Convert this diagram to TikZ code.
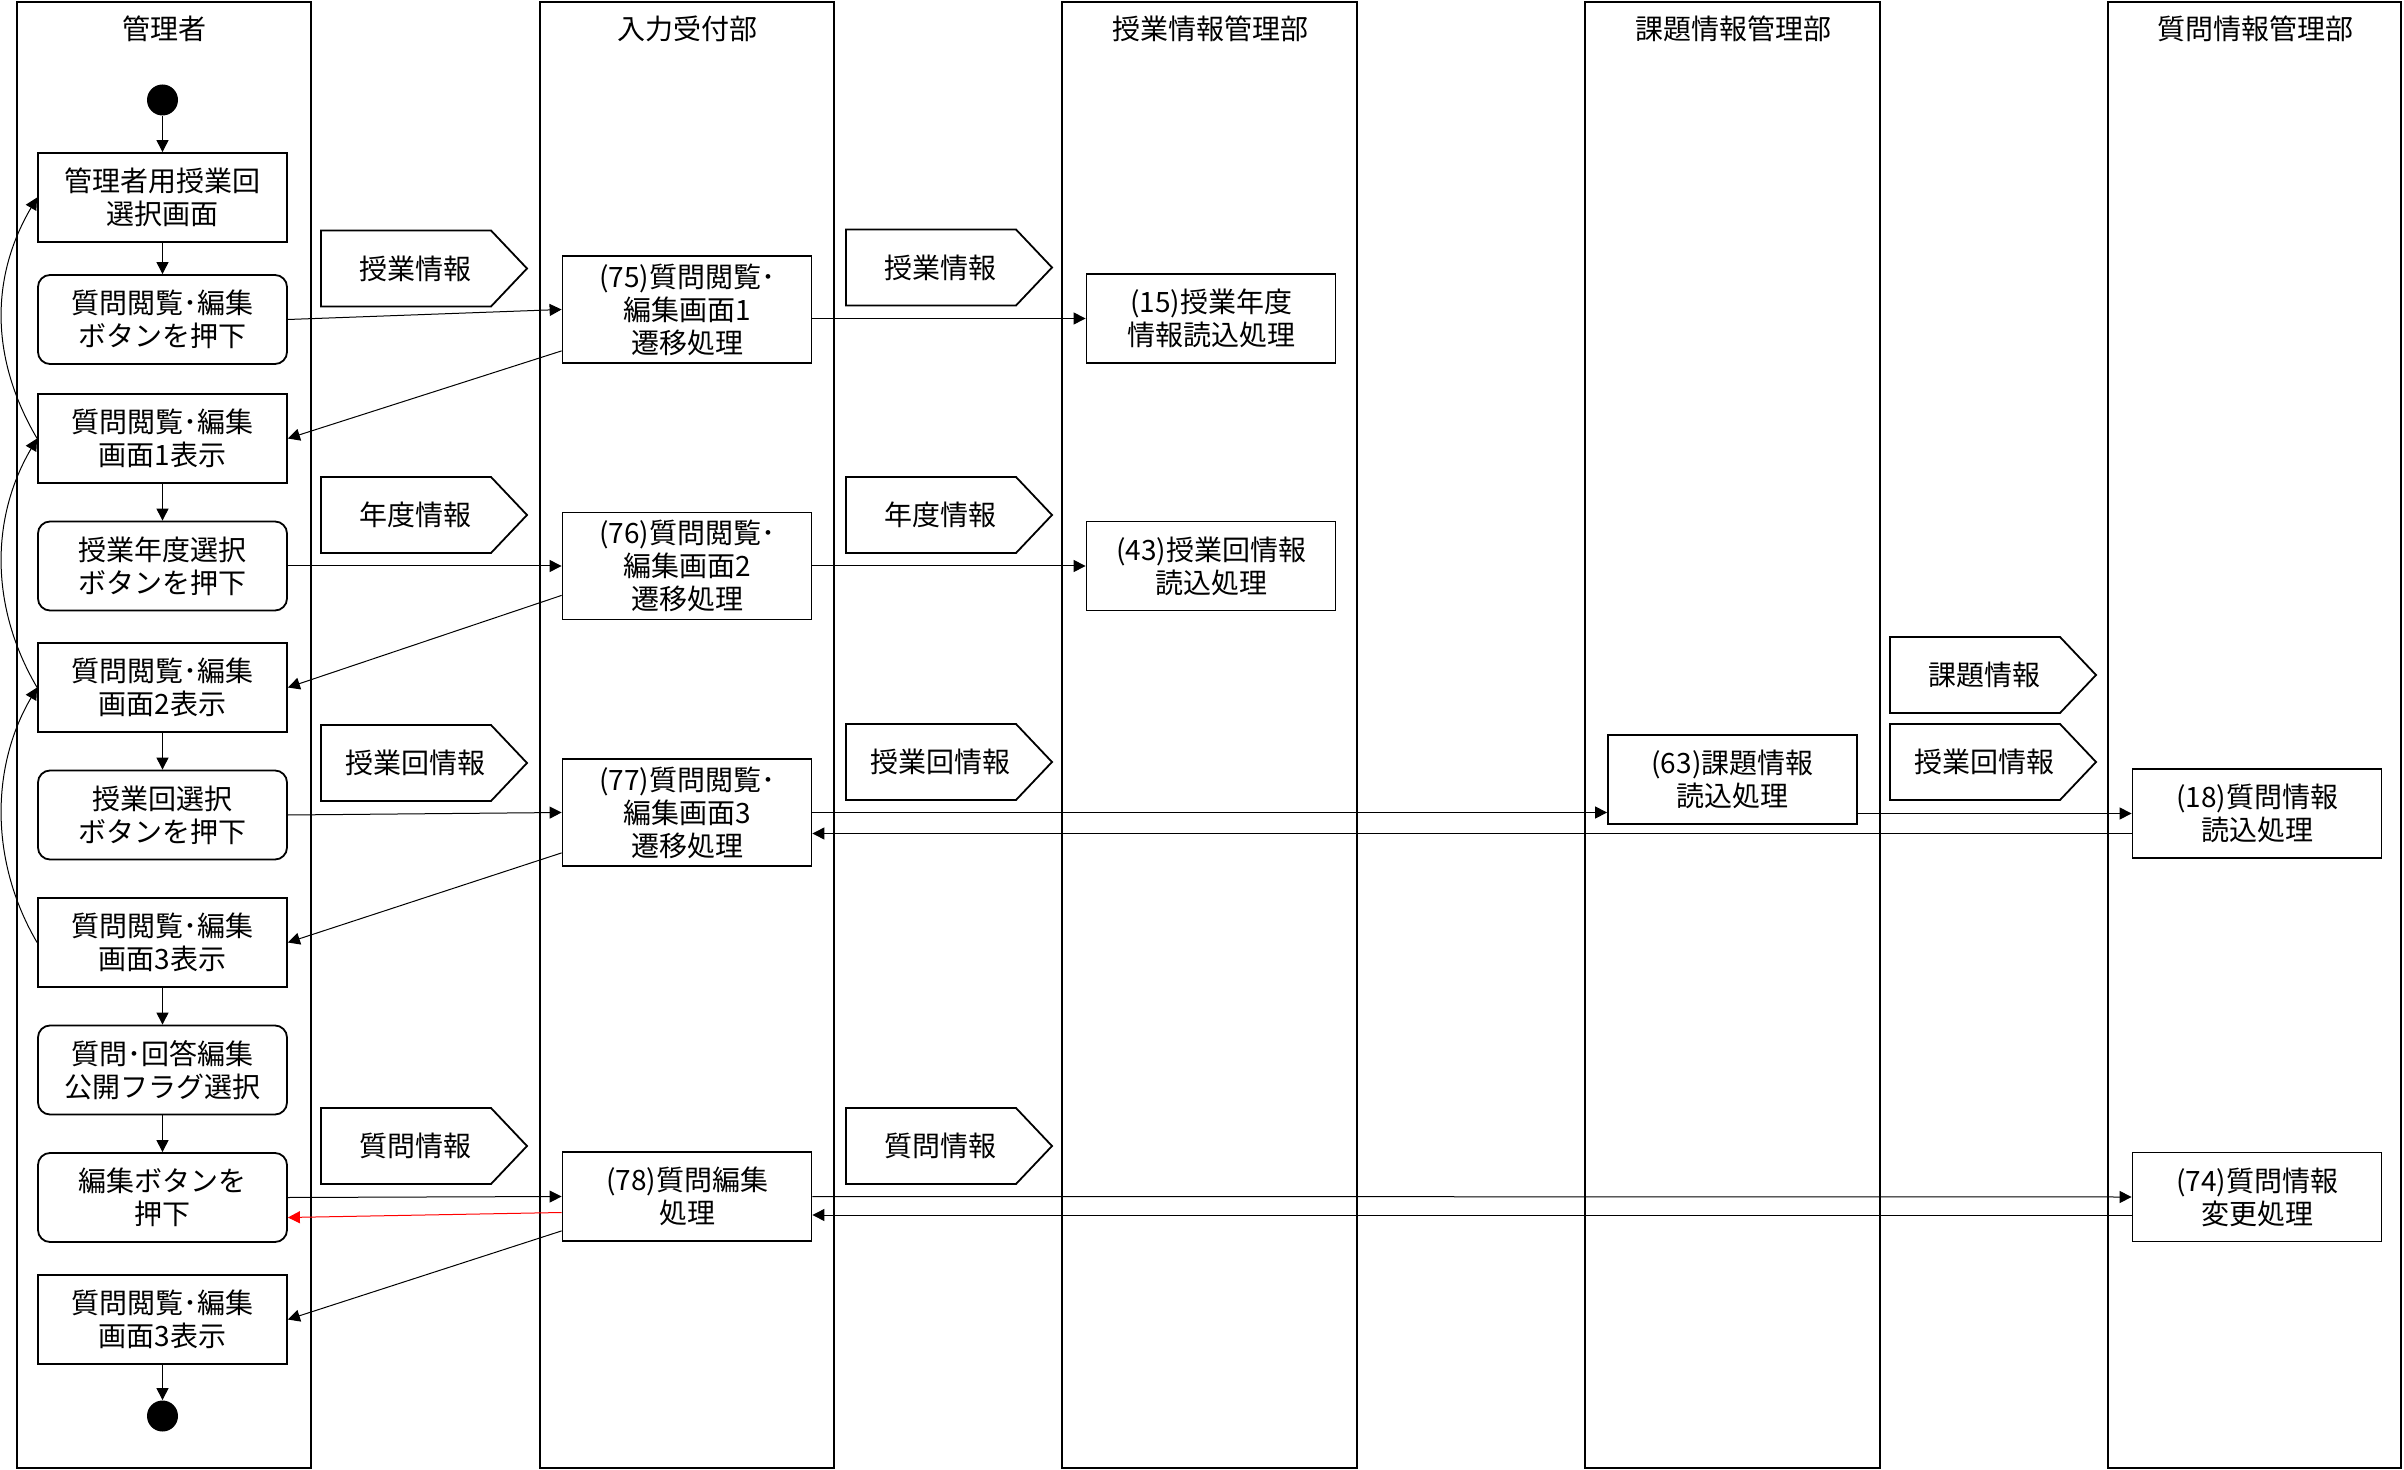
\documentclass[tikz,border=0pt]{standalone}
\usepackage{fontspec}
\setmainfont{Noto Sans CJK JP}
\usetikzlibrary{arrows.meta,calc}
\newcommand{\boxfont}{\fontsize{14pt}{16.5pt}\selectfont}
\newcommand{\infoflag}[4]{%
  \node[sigtxt] (#1) at (#2+94,#3) {#4};
  \draw[sigline] (#2,#3-38) -- (#2+170,#3-38) -- (#2+206,#3) -- (#2+170,#3+38) -- (#2,#3+38) -- cycle;
}
\begin{document}
\begin{tikzpicture}[x=0.5pt,y=-0.5pt,
  lane/.style={draw, line width=1pt},
  hdr/.style={font=\fontsize{14pt}{16pt}\selectfont, inner sep=0pt},
  box/.style={draw, line width=0.9pt, minimum width=124.5pt, minimum height=44.5pt,
    align=center, inner sep=2pt, font=\boxfont},
  rbox/.style={box, rounded corners=6pt},
  tall/.style={box, minimum height=53.5pt},
  dot/.style={circle, fill=black, minimum size=15.5pt, inner sep=0pt},
  sigtxt/.style={font=\boxfont, inner sep=0pt},
  sigline/.style={draw, line width=0.9pt},
  arr/.style={-{Triangle[length=6pt,width=6pt]}, line width=0.5pt}
]
\useasboundingbox (0,0) rectangle (2404,1470);

% swimlanes
\draw[lane] (17,2) rectangle (311,1468);
\draw[lane] (540,2) rectangle (834,1468);
\draw[lane] (1062,2) rectangle (1357,1468);
\draw[lane] (1585,2) rectangle (1880,1468);
\draw[lane] (2108,2) rectangle (2401,1468);
\node[hdr] (h1) at (164,29) {管理者};
\node[hdr] (h2) at (687,29) {入力受付部};
\node[hdr] (h3) at (1210,29) {授業情報管理部};
\node[hdr] (h4) at (1733,29) {課題情報管理部};
\node[hdr] (h5) at (2255,29) {質問情報管理部};

% lane 1
\node[dot] (st) at (162.5,100) {};
\node[box]  (a1)  at (162.5,197.5) {管理者用授業回\\選択画面};
\node[rbox] (a2)  at (162.5,319.5) {質問閲覧･編集\\ボタンを押下};
\node[box]  (a3)  at (162.5,438.5) {質問閲覧･編集\\画面1表示};
\node[rbox] (a4)  at (162.5,566) {授業年度選択\\ボタンを押下};
\node[box]  (a5)  at (162.5,687.5) {質問閲覧･編集\\画面2表示};
\node[rbox] (a6)  at (162.5,815) {授業回選択\\ボタンを押下};
\node[box]  (a7)  at (162.5,942.5) {質問閲覧･編集\\画面3表示};
\node[rbox] (a8)  at (162.5,1070) {質問･回答編集\\公開フラグ選択};
\node[rbox] (a9)  at (162.5,1197.5) {編集ボタンを\\押下};
\node[box]  (a10) at (162.5,1319.5) {質問閲覧･編集\\画面3表示};
\node[dot] (en) at (162.5,1416) {};

% lane 2
\node[tall] (p75) at (687,309.5) {(75)質問閲覧･\\編集画面1\\遷移処理};
\node[tall] (p76) at (687,566) {(76)質問閲覧･\\編集画面2\\遷移処理};
\node[tall] (p77) at (687,812.5) {(77)質問閲覧･\\編集画面3\\遷移処理};
\node[box]  (p78) at (687,1196.5) {(78)質問編集\\処理};

% lane 3
\node[box] (p15) at (1211,318.5) {(15)授業年度\\情報読込処理};
\node[box] (p43) at (1211,566) {(43)授業回情報\\読込処理};

% lane 4
\node[box] (p63) at (1732.5,779.5) {(63)課題情報\\読込処理};

% lane 5
\node[box] (p18) at (2257,813.5) {(18)質問情報\\読込処理};
\node[box] (p74) at (2257,1197) {(74)質問情報\\変更処理};

% data flags
\infoflag{f1}{321}{268.5}{授業情報}
\infoflag{f2}{321}{515}{年度情報}
\infoflag{f3}{321}{763}{授業回情報}
\infoflag{f4}{321}{1146}{質問情報}
\infoflag{g1}{846}{267.5}{授業情報}
\infoflag{g2}{846}{515}{年度情報}
\infoflag{g3}{846}{762}{授業回情報}
\infoflag{g4}{846}{1146}{質問情報}
\infoflag{k1}{1890}{675}{課題情報}
\infoflag{k2}{1890}{762}{授業回情報}

% lane 1 flow
\draw[arr] (st) -- (a1);
\draw[arr] (a1) -- (a2);
\draw[arr] (a3) -- (a4);
\draw[arr] (a5) -- (a6);
\draw[arr] (a7) -- (a8);
\draw[arr] (a8) -- (a9);
\draw[arr] (a10) -- (en);

% back curves
\draw[arr] (a3.west) .. controls +(-47,-80) and +(-47,80) .. (a1.west);
\draw[arr] (a5.west) .. controls +(-47,-80) and +(-47,80) .. (a3.west);
\draw[arr] (a7.west) .. controls +(-47,-80) and +(-47,80) .. (a5.west);

% cross-lane messages
\draw[arr] (a2.east) -- (p75.west);
\draw[arr] (p75.east |- p15.west) -- (p15.west);
\draw[arr] ($(p75.south west)+(0,-13)$) -- (a3.east);

\draw[arr] (a4.east) -- (p76.west);
\draw[arr] (p76.east) -- (p43.west);
\draw[arr] ($(p76.south west)+(0,-25)$) -- (a5.east);

\draw[arr] (a6.east) -- (p77.west);
\draw[arr] (p77.east) -- (p77.east -| p63.west);
\draw[arr] (p63.east |- p18.west) -- (p18.west);
\coordinate (r18) at ($(p18.west)+(0,20)$);
\draw[arr] (r18) -- (r18 -| p77.east);
\draw[arr] ($(p77.south west)+(0,-14)$) -- (a7.east);

\draw[arr] (a9.east) -- (p78.west);
\draw[arr] (p78.east) -- (p74.west);
\coordinate (r74) at ($(p74.west)+(0,18)$);
\draw[arr] (r74) -- (r74 -| p78.east);
\draw[arr, red] ($(p78.west)+(0,16)$) -- ($(a9.east)+(0,20)$);
\draw[arr] ($(p78.south west)+(0,-11)$) -- (a10.east);
\end{tikzpicture}
\end{document}
